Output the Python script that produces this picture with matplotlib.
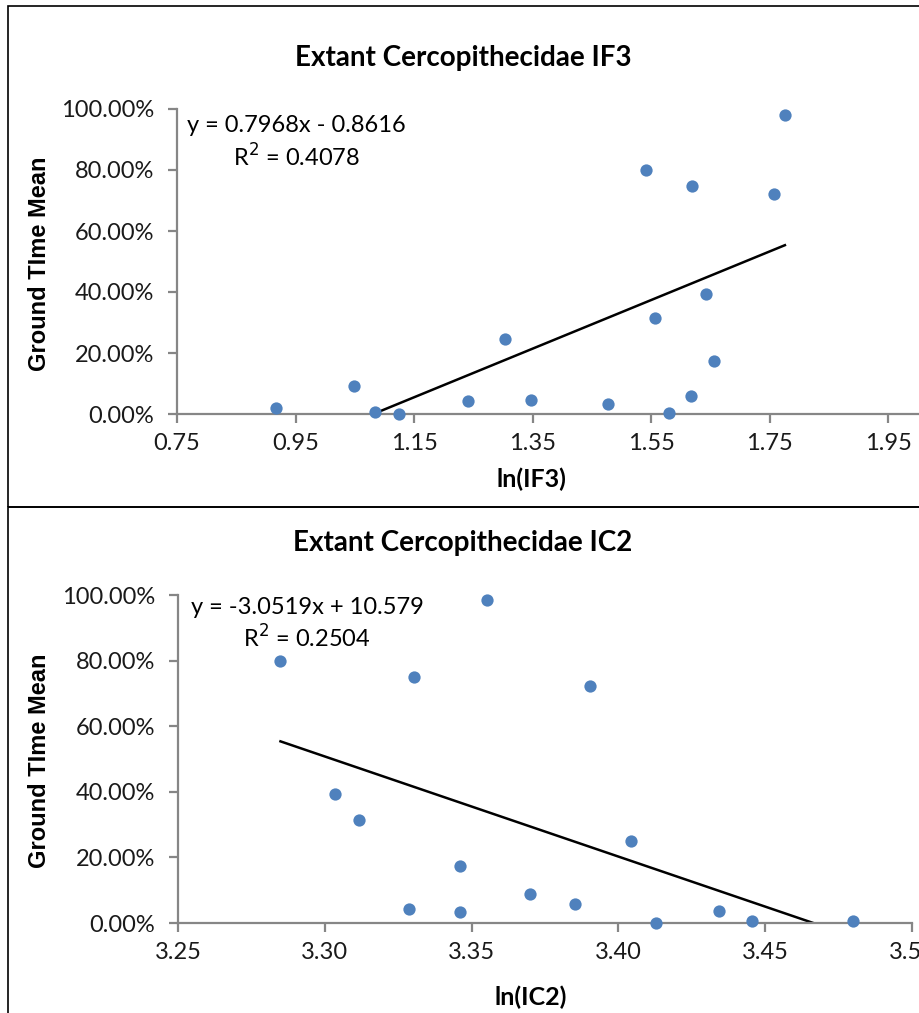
import numpy as np
import matplotlib
matplotlib.use('Agg')
import matplotlib.pyplot as plt
from matplotlib.ticker import FuncFormatter, FixedLocator, MultipleLocator
from matplotlib.patches import Rectangle

plt.rcParams['font.family'] = ['Lato', 'DejaVu Sans']

# data
if3_x = [0.917, 1.049, 1.085, 1.124, 1.241, 1.304, 1.348, 1.477, 1.542,
         1.557, 1.580, 1.618, 1.620, 1.643, 1.656, 1.758, 1.776]
if3_y = [0.021, 0.092, 0.008, 0.000, 0.042, 0.247, 0.045, 0.033, 0.800,
         0.314, 0.004, 0.059, 0.749, 0.395, 0.175, 0.720, 0.981]
if3_fit = (0.7968, -0.8616)
if3_r2 = 0.4078
if3_ticks = [0.75, 0.95, 1.15, 1.35, 1.55, 1.75, 1.95, 2.15]

ic2_x = [3.2849, 3.3034, 3.3115, 3.3286, 3.3305, 3.3459, 3.3459, 3.3553,
         3.3698, 3.3853, 3.3902, 3.4042, 3.4129, 3.4341, 3.4454, 3.4798]
ic2_y = [0.799, 0.394, 0.313, 0.042, 0.749, 0.175, 0.035, 0.984,
         0.089, 0.058, 0.722, 0.249, 0.000, 0.038, 0.005, 0.007]
ic2_fit = (-3.0519, 10.579)
ic2_r2 = 0.2504
ic2_ticks = [3.25, 3.30, 3.35, 3.40, 3.45, 3.50]

W, H = 919, 1013
fig = plt.figure(figsize=(W / 100, H / 100), dpi=100)

# panel borders
for y0, y1 in [(6, 507), (507, 1030)]:
    fig.add_artist(Rectangle((8 / W, 1 - y1 / H), 1.2, (y1 - y0) / H,
                             transform=fig.transFigure, fill=False,
                             edgecolor='black', lw=1.2))

blue = '#4F81BD'
grey = '#868686'


def fx(px):
    return px / W


def fy(py):
    return 1 - py / H


def panel(box, xs, ys, fit, r2, xlim, ticks, title, xlabel, lines, title_y, xlab_y, eq_x, eq_y):
    left, top, right, bottom = box
    ax = fig.add_axes([fx(left), fy(bottom), (right - left) / W, (bottom - top) / H])
    ax.scatter(xs, ys, s=78, color=blue, zorder=3, clip_on=False, linewidths=0)
    xx = np.array([min(xs), max(xs)])
    ax.plot(xx, fit[0] * xx + fit[1], color='black', lw=1.8)
    ax.set_xlim(*xlim)
    ax.set_ylim(0, 1)
    ax.xaxis.set_major_locator(FixedLocator(ticks))
    ax.yaxis.set_major_locator(MultipleLocator(0.2))
    ax.xaxis.set_major_formatter(FuncFormatter(lambda v, p: f'{v:.2f}'))
    ax.yaxis.set_major_formatter(FuncFormatter(lambda v, p: f'{v * 100:.2f}%'))
    for s in ['top', 'right']:
        ax.spines[s].set_visible(False)
    for s in ['left', 'bottom']:
        ax.spines[s].set_color(grey)
        ax.spines[s].set_linewidth(1.6)
    ax.tick_params(colors=grey, width=1.6, length=6.5, labelsize=17,
                   labelcolor='#1a1a1a')
    ax.tick_params(axis='x', pad=7)
    ax.tick_params(axis='y', pad=10)
    fig.text(fx(463), fy(title_y), title, ha='center', va='center',
             fontsize=20, fontweight='bold')
    fig.text(fx(531), fy(xlab_y), xlabel, ha='center', va='center',
             fontsize=18, fontweight='bold')
    fig.text(fx(40), fy((top + bottom) / 2 + 2), 'Ground TIme Mean', rotation=90,
             ha='center', va='center', fontsize=17, fontweight='bold',
             family=['Liberation Sans', 'DejaVu Sans'])
    fig.text(fx(eq_x), fy(eq_y[0]), lines[0], ha='center', va='center', fontsize=17)
    fig.text(fx(eq_x), fy(eq_y[1]), lines[1], ha='center', va='center', fontsize=17)
    return ax


panel((177, 109, 177 + 1.4 * 592.5, 414), if3_x, if3_y, if3_fit, if3_r2,
      (0.75, 2.15), if3_ticks, 'Extant Cercopithecidae IF3', 'ln(IF3)',
      [f'y = {if3_fit[0]:.4f}x - {abs(if3_fit[1]):.4f}', f'R$^2$ = {if3_r2:.4f}'],
      58, 479, 296, (126, 157))

panel((178, 595, 912, 923), ic2_x, ic2_y, ic2_fit, ic2_r2,
      (3.25, 3.50), ic2_ticks, 'Extant Cercopithecidae IC2', 'ln(IC2)',
      [f'y = {ic2_fit[0]:.4f}x + {ic2_fit[1]:.3f}', f'R$^2$ = {ic2_r2:.4f}'],
      543, 997, 307, (607, 638))

fig.savefig('out.png', dpi=100)
